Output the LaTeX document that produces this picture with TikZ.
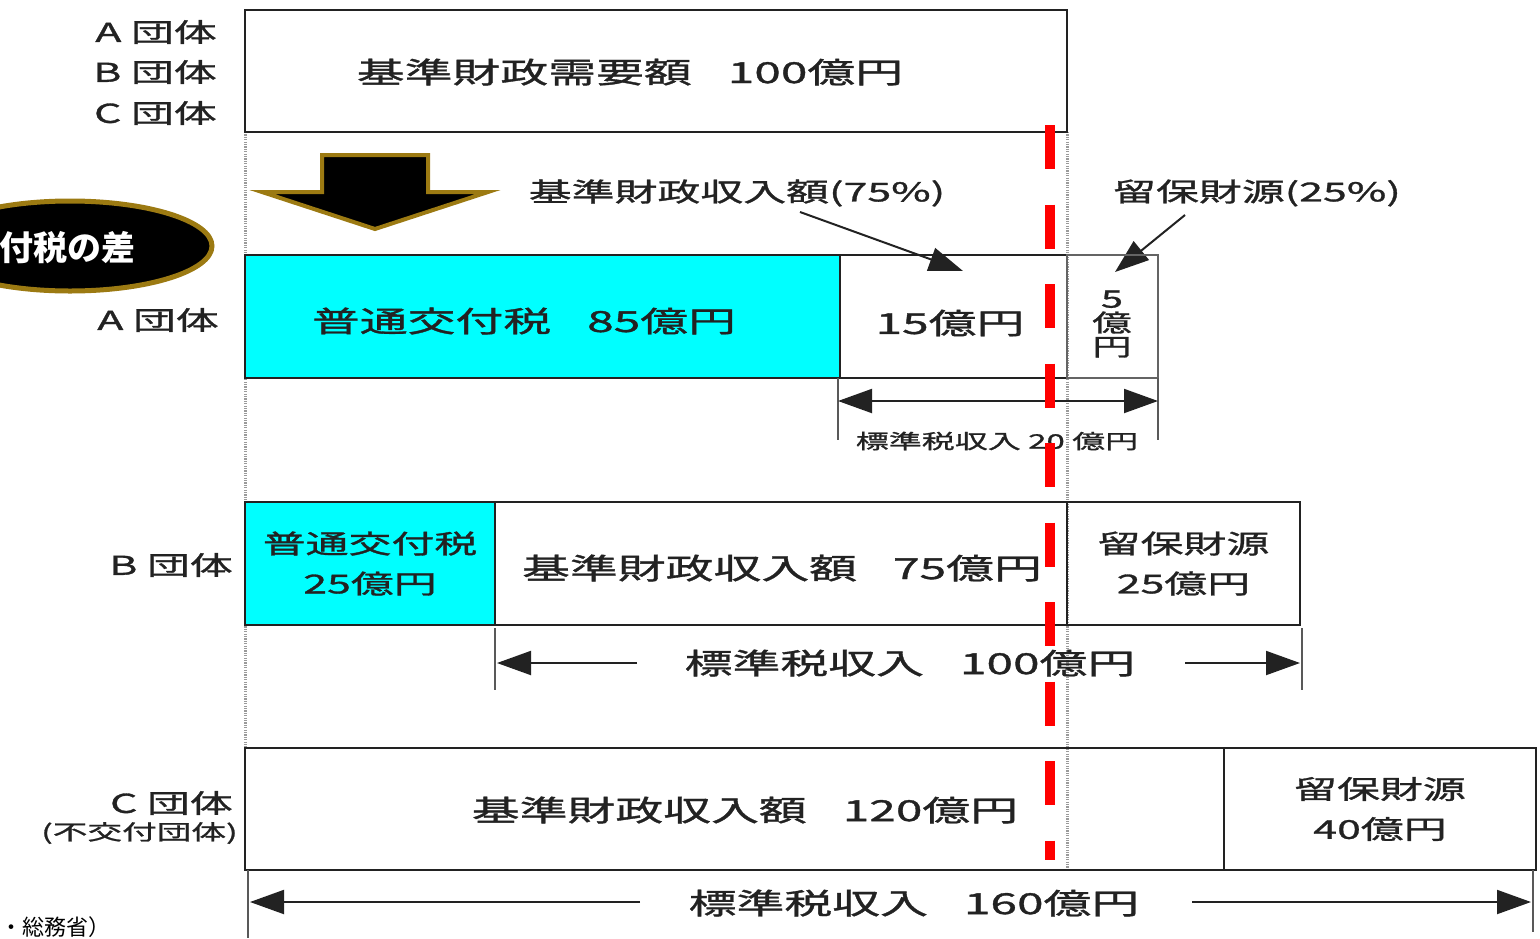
\documentclass[tikz,border=0pt]{standalone}
\usepackage{fontspec}
\setmainfont{Noto Sans CJK JP}
\newfontfamily\jp[FakeStretch=1.65,FakeBold=1.2]{Noto Sans CJK JP}
\newfontfamily\jpplain{Noto Sans CJK JP}
\usetikzlibrary{arrows.meta}
\definecolor{gold}{HTML}{9C7A12}
\definecolor{ink}{HTML}{222222}
\definecolor{aqua}{HTML}{00FFFF}
\definecolor{dotgray}{HTML}{9A9A9A}
\newcommand{\gap}{\hspace{36pt}}
\begin{document}
\begin{tikzpicture}[x=1pt,y=-1pt,
  box/.style={draw=ink, line width=2.5pt, inner sep=0pt, outer sep=0pt, anchor=north west, text=ink, align=center, font=\jp\fontsize{29}{34}\selectfont},
  midtxt/.style={font=\jp\fontsize{26}{40}\selectfont},
  bigtxt/.style={font=\jp\fontsize{29}{34}\selectfont, text=ink, inner sep=0pt},
  lab/.style={font=\jp\fontsize{26}{30}\selectfont, text=ink, inner sep=0pt, anchor=east},
  smalltxt/.style={font=\jp\fontsize{20}{24}\selectfont, text=ink, inner sep=0pt},
  toptxt/.style={font=\jp\fontsize{26}{30}\selectfont, text=ink, inner sep=0pt},
  tickline/.style={draw=ink!75, line width=2pt},
  dimtip/.style={draw=ink, line width=2pt, -{Triangle[length=34pt,width=24pt]}},
  ptr/.style={draw=ink, line width=2pt, -{Triangle[length=34pt,width=24pt]}},
  dots/.style={draw=dotgray, line width=3pt, dash pattern=on 1.2pt off 1.2pt},
  redline/.style={draw=red, line width=10pt, dash pattern=on 44pt off 35.5pt},
]
\useasboundingbox (0,0) rectangle (1540,938);

% dotted guide lines
\coordinate (g1a) at (245,132); \coordinate (g1b) at (245,748);
\coordinate (g2a) at (1067,132); \coordinate (g2b) at (1067,870);
\draw[dots] (g1a) -- (g1b);
\draw[dots] (g2a) -- (g2b);

% top box
\node[box, minimum width=822pt, minimum height=122pt] (need) at (245,10) {};
\node[bigtxt] (needt) at (630,72) {基準財政需要額\gap 100億円};
\node[lab] (la1) at (217,32) {A 団体};
\node[lab] (lb1) at (217,72) {B 団体};
\node[lab] (lc1) at (217,113) {C 団体};

% big down arrow
\draw[fill=black, draw=gold, line width=4pt, line join=miter] (322,155) -- (428,155) -- (428,192) -- (488,192) -- (375,229) -- (262,192) -- (322,192) -- cycle;

% ellipse
\begin{scope}
\clip (0,0) rectangle (1540,938);
\draw[fill=black, draw=gold, line width=5pt] (70,246) ellipse [x radius=142pt, y radius=45pt];
\end{scope}
\node[font=\jpplain\bfseries\fontsize{34}{40}\selectfont, text=white, inner sep=0pt] (diff) at (67,248) {付税の差};

% labels with pointers
\node[toptxt] (t75) at (737,193) {基準財政収入額(75\%)};
\node[toptxt] (t25) at (1257,193) {留保財源(25\%)};
\coordinate (p75) at (800,212); \coordinate (q75) at (963,271);
\coordinate (p25) at (1185,215); \coordinate (q25) at (1115,272);
\draw[ptr] (p75) -- (q75);
\draw[ptr] (p25) -- (q25);

% A row
\node[box, fill=aqua, minimum width=595pt, minimum height=123pt] (a85) at (245,255) {};
\node[bigtxt] (a85t) at (524,321) {普通交付税\gap 85億円};
\node[box, minimum width=227pt, minimum height=123pt] (a15) at (840,255) {};
\node[bigtxt] (a15t) at (950,323) {15億円};
\node[box, draw=ink!70, minimum width=91pt, minimum height=123pt] (a5) at (1067,255) {};
\node[bigtxt, align=center, font=\jp\fontsize{24}{24}\selectfont] (a5t) at (1112,324) {5\\億\\円};
\node[lab] (la2) at (219,320) {A 団体};

% A dimension
\coordinate (ta1) at (838,378); \coordinate (ta2) at (838,440);
\coordinate (tb1) at (1158,378); \coordinate (tb2) at (1158,440);
\draw[tickline] (ta1) -- (ta2);
\draw[tickline] (tb1) -- (tb2);
\coordinate (da1) at (838,401); \coordinate (da2) at (1158,401);
\draw[draw=ink, line width=2pt, {Triangle[length=34pt,width=24pt]}-{Triangle[length=34pt,width=24pt]}] (da1) -- (da2);
\node[smalltxt] (d20) at (997,441) {標準税収入 20 億円};

% B row
\node[box, fill=aqua, minimum width=250pt, minimum height=123pt, midtxt] (b25) at (245,502) {普通交付税\\25億円};
\node[box, minimum width=572pt, minimum height=123pt] (b75) at (495,502) {};
\node[bigtxt] (b75t) at (782,568) {基準財政収入額\gap 75億円};
\node[box, minimum width=233pt, minimum height=123pt, midtxt] (br25) at (1067,502) {留保財源\\25億円};
\node[lab] (lb2) at (233,565) {B 団体};

% B dimension
\coordinate (tc1) at (495,628); \coordinate (tc2) at (495,690);
\coordinate (td1) at (1302,628); \coordinate (td2) at (1302,690);
\draw[tickline] (tc1) -- (tc2);
\draw[tickline] (td1) -- (td2);
\node[bigtxt] (d100) at (910,663) {標準税収入\gap 100億円};
\coordinate (db1) at (637,663); \coordinate (db2) at (497,663);
\coordinate (db3) at (1185,663); \coordinate (db4) at (1300,663);
\draw[dimtip] (db1) -- (db2);
\draw[dimtip] (db3) -- (db4);

% C row
\node[box, minimum width=979pt, minimum height=122pt] (c120) at (245,748) {};
\node[bigtxt] (c120t) at (745,810) {基準財政収入額\gap 120億円};
\node[box, minimum width=312pt, minimum height=122pt, midtxt] (c40) at (1224,748) {留保財源\\40億円};
\node[lab] (lc2) at (233,803) {C 団体};
\node[lab, font=\jp\fontsize{21}{24}\selectfont] (lc3) at (238,833) {(不交付団体)};

% C dimension
\coordinate (te1) at (248,870); \coordinate (te2) at (248,938);
\coordinate (tf1) at (1533,870); \coordinate (tf2) at (1533,932);
\draw[tickline] (te1) -- (te2);
\draw[tickline] (tf1) -- (tf2);
\node[bigtxt] (d160) at (914,903) {標準税収入\gap 160億円};
\coordinate (dc1) at (640,902); \coordinate (dc2) at (250,902);
\coordinate (dc3) at (1192,902); \coordinate (dc4) at (1531,902);
\draw[dimtip] (dc1) -- (dc2);
\draw[dimtip] (dc3) -- (dc4);

% source
\node[font=\jpplain\fontsize{22}{24}\selectfont, anchor=west, inner sep=0pt] (src) at (0,927) {・総務省）};

% red dashed line
\coordinate (r1) at (1050,125); \coordinate (r2) at (1050,860);
\draw[redline] (r1) -- (r2);
\end{tikzpicture}
\end{document}
